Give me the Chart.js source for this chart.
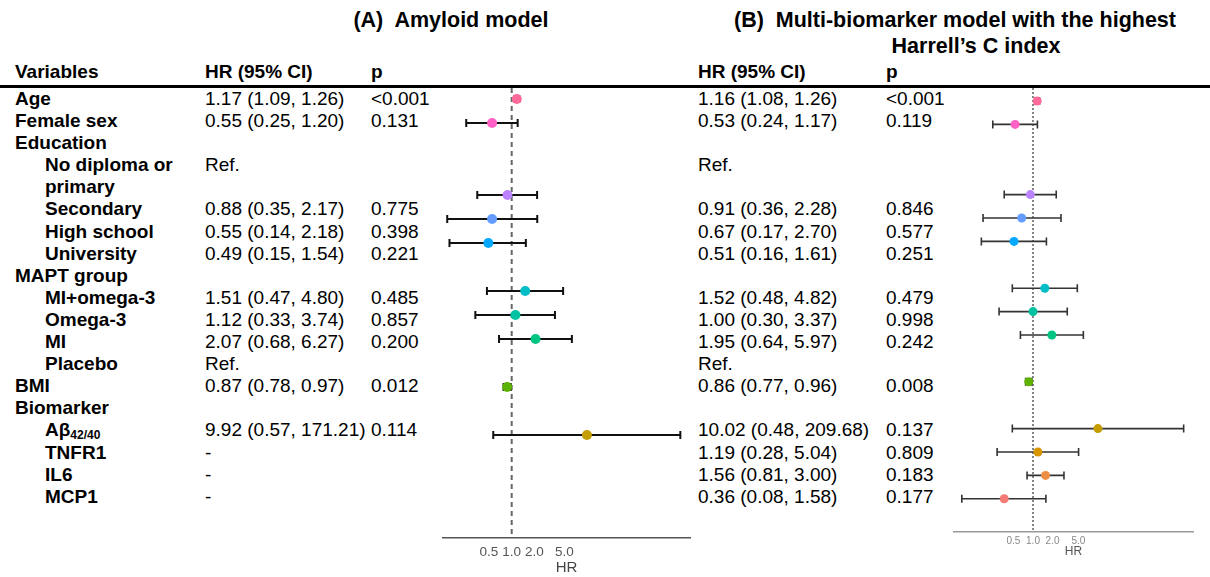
<!DOCTYPE html>
<html><head><meta charset="utf-8">
<script src="https://cdn.jsdelivr.net/npm/chart.js@4.4.1/dist/chart.umd.min.js"></script>
<style>
body{margin:0;background:#fff;}
#page{position:relative;width:1210px;height:577px;overflow:hidden;font-family:'Liberation Sans',Arial,Helvetica,sans-serif;color:#000;background:#fff}
.title{position:absolute;font-weight:bold;font-size:21.5px;line-height:24px;text-align:center;white-space:nowrap}
.hdr{position:absolute;font-weight:bold;font-size:19px;line-height:22px;white-space:nowrap;top:61px}
#rule{position:absolute;left:0;top:85px;width:1210px;height:3px;background:#000}
#table{position:absolute;left:0;top:88px;width:1210px}
.row{position:relative;font-size:19px;line-height:22.1px}
.lab{font-weight:bold}
.cell{position:absolute;top:0;white-space:nowrap}
sub{font-size:12px;vertical-align:-3px;line-height:0}
canvas{position:absolute}
</style></head><body>
<div id="page">
 <div class="title" style="left:251px;width:400px;top:8px">(A)&nbsp; Amyloid model</div>
 <div class="title" style="left:705px;width:500px;top:8px">(B)&nbsp; Multi-biomarker model with the highest</div>
 <div class="title" style="left:776px;width:400px;top:34px">Harrell’s C index</div>
 <div class="hdr" style="left:15px">Variables</div>
 <div class="hdr" style="left:205px">HR (95% CI)</div>
 <div class="hdr" style="left:371px">p</div>
 <div class="hdr" style="left:698px">HR (95% CI)</div>
 <div class="hdr" style="left:886px">p</div>
 <div id="rule"></div>
 <div id="table"></div>
 <canvas id="cA" width="249" height="489" style="left:442px;top:88px"></canvas>
 <canvas id="cB" width="241" height="489" style="left:953px;top:88px"></canvas>
</div>
<script>
// ---- data ----
const variables = ["Age","Female sex","Education","No diploma or primary","Secondary","High school","University",
  "MAPT group","MI+omega-3","Omega-3","MI","Placebo","BMI","Biomarker","Aβ<sub>42/40</sub>","TNFR1","IL6","MCP1"];
const level = [0,0,0,1,1,1,1,0,1,1,1,1,0,0,1,1,1,1];

const hrA = [1.17,0.55,null,null,0.88,0.55,0.49,null,1.51,1.12,2.07,null,0.87,null,9.92,null,null,null];
const loA = [1.09,0.25,null,null,0.35,0.14,0.15,null,0.47,0.33,0.68,null,0.78,null,0.57,null,null,null];
const hiA = [1.26,1.20,null,null,2.17,2.18,1.54,null,4.80,3.74,6.27,null,0.97,null,171.21,null,null,null];
const pA  = ["<0.001","0.131","","","0.775","0.398","0.221","","0.485","0.857","0.200","","0.012","","0.114","","",""];
const noteA = ["","","","Ref.","","","","","","","","Ref.","","","","-","-","-"];

const hrB = [1.16,0.53,null,null,0.91,0.67,0.51,null,1.52,1.00,1.95,null,0.86,null,10.02,1.19,1.56,0.36];
const loB = [1.08,0.24,null,null,0.36,0.17,0.16,null,0.48,0.30,0.64,null,0.77,null,0.48,0.28,0.81,0.08];
const hiB = [1.26,1.17,null,null,2.28,2.70,1.61,null,4.82,3.37,5.97,null,0.96,null,209.68,5.04,3.00,1.58];
const pB  = ["<0.001","0.119","","","0.846","0.577","0.251","","0.479","0.998","0.242","","0.008","","0.137","0.809","0.183","0.177"];
const noteB = ["","","","Ref.","","","","","","","","Ref.","","","","","",""];

const pointColors = ["#FF6A98","#FF62C4","","","#BB83FF","#659CFF","#00A9FF","","#00BEC8","#00C1A0","#00C484","","#5DB300","","#C49D00","#D99500","#EE8E43","#F57A75"];
const xTicks = [0.5,1,2,5];

// ---- table ----
const fmt = (h,l,u)=> h==null ? null : `${h.toFixed(2)} (${l.toFixed(2)}, ${u.toFixed(2)})`;
const table = document.getElementById('table');
variables.forEach((v,i)=>{
  const row = document.createElement('div'); row.className='row';
  const lab = document.createElement('div'); lab.className='lab';
  lab.style.marginLeft = (level[i] ? 45 : 15)+'px';
  lab.style.width = (level[i] ? 150 : 180)+'px';
  lab.innerHTML = v; row.appendChild(lab);
  const cells = [[205, fmt(hrA[i],loA[i],hiA[i]) || noteA[i]],[371,pA[i]],
                 [698, fmt(hrB[i],loB[i],hiB[i]) || noteB[i]],[886,pB[i]]];
  cells.forEach(([x,t])=>{ if(!t) return; const c=document.createElement('div'); c.className='cell'; c.style.left=x+'px'; c.textContent=t; row.appendChild(c); });
  table.appendChild(row);
});

// ---- charts ----
const forest = {
  id:'forest',
  beforeDatasetsDraw(chart, args, o){
    const {ctx, chartArea, scales:{x,y}} = chart;
    ctx.save();
    const x1 = x.getPixelForValue(1);
    ctx.strokeStyle=o.refColor; ctx.lineWidth=o.refWidth; ctx.setLineDash(o.refDash);
    ctx.beginPath(); ctx.moveTo(x1,chartArea.top); ctx.lineTo(x1,chartArea.bottom); ctx.stroke();
    ctx.setLineDash([]);
    ctx.strokeStyle=o.barColor; ctx.lineWidth=o.barWidth;
    chart.data.datasets[0].data.forEach(d=>{
      const py=y.getPixelForValue(d.y), xl=x.getPixelForValue(d.lo), xh=x.getPixelForValue(d.hi);
      ctx.beginPath();
      ctx.moveTo(xl,py); ctx.lineTo(xh,py);
      ctx.moveTo(xl,py-o.cap); ctx.lineTo(xl,py+o.cap);
      ctx.moveTo(xh,py-o.cap); ctx.lineTo(xh,py+o.cap);
      ctx.stroke();
    });
    ctx.restore();
  }
};

function makeChart(id, hr, lo, hi, cfg){
  const pts=[], cols=[];
  hr.forEach((h,i)=>{ if(h!=null){ pts.push({x:h,y:i,lo:lo[i],hi:hi[i]}); cols.push(pointColors[i]); } });
  return new Chart(document.getElementById(id), {
    type:'scatter',
    data:{datasets:[{data:pts, pointBackgroundColor:cols, pointBorderWidth:0, pointRadius:cfg.r, pointHoverRadius:cfg.r, clip:false}]},
    plugins:[forest],
    options:{
      responsive:false, animation:false, devicePixelRatio:1,
      layout:{padding:0, autoPadding:false},
      plugins:{legend:{display:false}, tooltip:{enabled:false},
        forest:{refColor:cfg.refColor, refWidth:cfg.refWidth, refDash:cfg.refDash, barColor:cfg.barColor, barWidth:cfg.barWidth, cap:cfg.cap}},
      scales:{
        y:{type:'linear', display:false, reverse:true, min:cfg.ymin, max:cfg.ymax},
        x:{type:'logarithmic', min:cfg.xmin, max:cfg.xmax, bounds:'data',
           grid:{display:false, drawTicks:false},
           border:{display:true, color:cfg.axisColor, width:cfg.axisWidth},
           afterBuildTicks:s=>{ s.ticks = xTicks.map(v=>({value:v})); },
           afterFit:s=>{ s.height = cfg.axisH; s.paddingLeft = 0; s.paddingRight = 0; },
           ticks:{color:cfg.tickColor, padding:cfg.tickPad, maxRotation:0, autoSkip:false,
                  font:{family:"'Liberation Sans Narrow','Liberation Sans',Arial", size:cfg.tickSize},
                  callback:v=>Number(v).toFixed(1)},
           title:{display:true, text:'HR', color:cfg.titleColor, padding:{top:0,bottom:cfg.titlePad},
                  font:{family:"'Liberation Sans Narrow','Liberation Sans',Arial", size:cfg.titleSize}}
        }
      }
    }
  });
}

makeChart('cA', hrA, loA, hiA, {r:5, refColor:'#666', refWidth:2, refDash:[5,4], barColor:'#111', barWidth:2, cap:4,
  ymin:-0.458, ymax:18.29, xmin:0.1194, xmax:237, axisColor:'#555', axisWidth:1.5, axisH:39,
  tickColor:'#555', tickPad:6, tickSize:13.5, titleColor:'#444', titleSize:15, titlePad:0});
makeChart('cB', hrB, loB, hiB, {r:4.5, refColor:'#444', refWidth:1.3, refDash:[2,2], barColor:'#333', barWidth:1.6, cap:4,
  ymin:-0.556, ymax:18.42, xmin:0.0585, xmax:302.7, axisColor:'#999', axisWidth:1.5, axisH:45,
  tickColor:'#888', tickPad:3, tickSize:10, titleColor:'#555', titleSize:12, titlePad:18});
</script>
</body></html>
